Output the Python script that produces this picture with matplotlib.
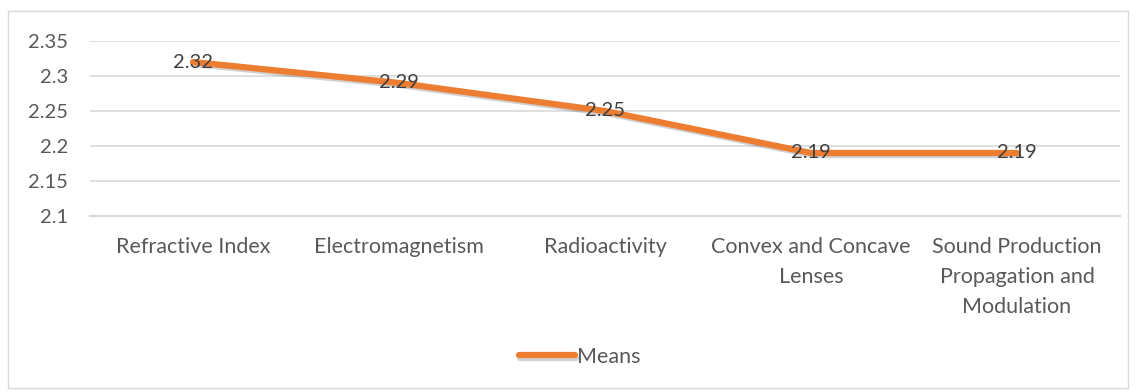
#!/usr/bin/env python3

import matplotlib.pyplot as plt
import matplotlib.patheffects as pe
from matplotlib.patches import Rectangle

categories = ['Refractive Index', 'Electromagnetism', 'Radioactivity',
              'Convex and Concave\nLenses',
              'Sound Production\nPropagation and\nModulation']
means = [2.32, 2.29, 2.25, 2.19, 2.19]
yticks = [2.1, 2.15, 2.2, 2.25, 2.3, 2.35]
ytick_labels = ['2.1', '2.15', '2.2', '2.25', '2.3', '2.35']

plt.rcParams['font.family'] = ['Lato', 'DejaVu Sans']
FS = 14.5

fig = plt.figure(figsize=(11.36, 3.92), dpi=100)
fig.patches.append(Rectangle((8 / 1136, 4 / 392), 1120 / 1136, 377 / 392,
                             transform=fig.transFigure, fill=False,
                             edgecolor='#D9D9D9', linewidth=1.0))

ax = fig.add_axes([90 / 1136, 1 - 216 / 392, 1030 / 1136, 175 / 392])
x = range(len(categories))

shadow = [pe.SimpleLineShadow(offset=(1.0, -1.5), shadow_color='#000000',
                              alpha=0.18), pe.Normal()]
line, = ax.plot(x, means, color='#ED7D31', linewidth=4.5,
                solid_joinstyle='round', solid_capstyle='round',
                label='Means', path_effects=shadow, zorder=3)

for xi, v in zip(x, means):
    ax.text(xi, v, f'{v:.2f}', ha='center', va='center', fontsize=FS,
            color='#404040', zorder=4)

ax.set_xlim(-0.5, len(categories) - 0.5)
ax.set_ylim(2.1, 2.35)
ax.set_yticks(yticks)
ax.set_yticklabels(ytick_labels)
ax.set_xticks(list(x))
ax.set_xticklabels(categories, linespacing=1.62, fontsize=15.5)
ax.grid(axis='y', color='#D9D9D9', linewidth=1.2)
ax.set_axisbelow(True)
for s in ['top', 'right', 'left']:
    ax.spines[s].set_visible(False)
ax.spines['bottom'].set_color('#D9D9D9')
ax.spines['bottom'].set_linewidth(1.6)
ax.tick_params(axis='y', length=0, labelsize=FS, colors='#595959', pad=16)
ax.tick_params(axis='x', length=0, colors='#595959', pad=15)

leg = fig.legend(handles=[line], labels=['Means'], loc='center',
                 bbox_to_anchor=(0.51, 1 - 357 / 392), frameon=False,
                 fontsize=15.5, handlelength=2.6, handletextpad=0.1)
for t in leg.get_texts():
    t.set_color('#595959')

fig.savefig('out.png', dpi=100)
